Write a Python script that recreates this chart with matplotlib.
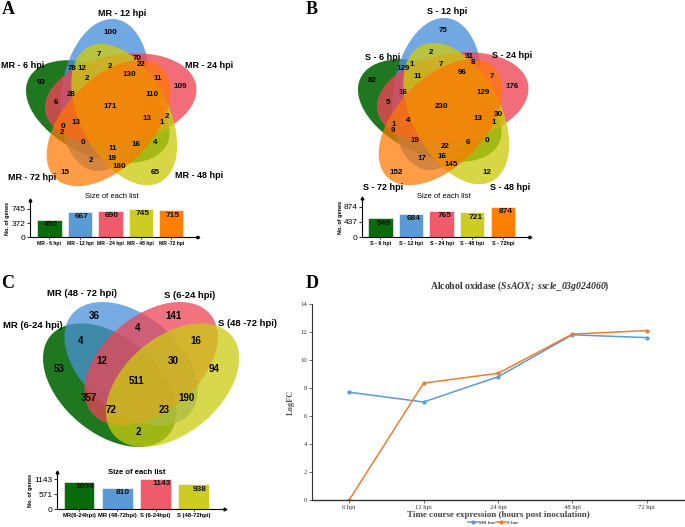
import matplotlib
matplotlib.use("Agg")
import matplotlib.pyplot as plt
from matplotlib.patches import Ellipse

plt.rcParams.update({
    "font.family": ["Liberation Sans", "DejaVu Sans"],
    "mathtext.fontset": "custom",
    "mathtext.rm": "Liberation Serif",
    "mathtext.it": "Liberation Serif:italic",
    "mathtext.bf": "Liberation Serif:bold",
    "mathtext.bfit": "Liberation Serif:italic:bold",
})

# ---- data -------------------------------------------------------------
sets_a = ["MR - 6 hpi", "MR - 12 hpi", "MR - 24 hpi", "MR - 48 hpi", "MR - 72 hpi"]
sets_b = ["S - 6 hpi", "S - 12 hpi", "S - 24 hpi", "S - 48 hpi", "S - 72 hpi"]
sets_c = ["MR (6-24 hpi)", "MR (48 - 72 hpi)", "S (6-24 hpi)", "S (48 -72 hpi)"]

# region counts, in reading order of the picture
counts_a = [100, 7, 70, 22, 78, 12, 2, 130, 11, 109, 93, 2, 28, 110, 6, 171, 13, 13,
            2, 1, 0, 2, 0, 16, 4, 11, 2, 19, 180, 15, 65]
counts_b = [75, 2, 31, 8, 129, 1, 7, 96, 7, 176, 82, 11, 16, 129, 5, 230, 13, 30,
            1, 4, 1, 9, 19, 22, 6, 0, 17, 16, 145, 152, 12]
counts_c = [36, 141, 4, 4, 16, 53, 12, 30, 94, 511, 357, 190, 72, 23, 2]

bar_labels_a = ["MR - 6 hpi", "MR - 12 hpi", "MR - 24 hpi", "MR - 48 hpi", "MR -72 hpi"]
bar_vals_a = [450, 667, 690, 745, 715]
bar_labels_b = ["S - 6 hpi", "S - 12 hpi", "S - 24 hpi", "S - 48 hpi", "S - 72hpi"]
bar_vals_b = [549, 684, 765, 721, 874]
bar_labels_c = ["MR(6-24hpi)", "MR (48-72hpi)", "S (6-24hpi)", "S (48-72hpi)"]
bar_vals_c = [1034, 810, 1143, 938]

timepoints = ["6 hpi", "12 hpi", "24 hpi", "48 hpi", "72 hpi"]
mr_line = [7.7, 7.0, 8.8, 11.8, 11.6]
s_line = [0.0, 8.35, 9.05, 11.85, 12.1]

# ---- layout / style ---------------------------------------------------
W, H = 685, 527
GREEN, BLUE, RED, YELLOW, ORANGE = "#006400", "#4a90d9", "#ee4455", "#cccc11", "#ff7700"
COLS5 = [GREEN, BLUE, RED, YELLOW, ORANGE]
ALPHA5 = [0.88, 0.78, 0.78, 0.78, 0.72]
BAR5 = ["#0a6b0a", "#5b9bd5", "#ef5b6b", "#cccc22", "#ff7f00"]

# five-ellipse geometry (unit square), four-ellipse geometry
ELL5 = [(0.428, 0.449, 155.0), (0.469, 0.543, 82.0), (0.558, 0.523, 10.0),
        (0.578, 0.432, 118.0), (0.489, 0.383, 46.0)]
ELL4 = [(0.350, 0.400, 140.0), (0.450, 0.500, 140.0), (0.544, 0.500, 40.0),
        (0.644, 0.400, 40.0)]

pos_a = [(110, 32), (99, 54), (137, 59), (141, 65), (72, 69), (82, 68), (110, 66),
         (129, 75), (158, 79), (180, 87), (41, 82), (87, 79), (71, 95), (152, 95),
         (56, 103), (110, 107), (76, 122), (147, 119), (167, 116), (162, 123),
         (63, 126), (62, 133), (83, 143), (136, 145), (155, 142), (113, 148),
         (91, 161), (112, 159), (119, 166), (65, 173), (155, 173)]
pos_b = [(443, 31), (431, 52), (469, 57), (473, 63), (403, 68), (412, 65), (441, 64),
         (462, 73), (492, 77), (512, 86), (372, 81), (418, 77), (403, 93), (483, 93),
         (388, 102), (442, 106), (478, 118), (498, 114), (494, 122), (408, 120),
         (394, 124), (393, 131), (415, 141), (445, 147), (468, 143), (487, 141),
         (422, 159), (442, 157), (451, 164), (396, 172), (487, 172)]
pos_c = [(94, 316), (174, 316), (138, 328), (81, 341), (196, 341), (59, 369),
         (102, 361), (173, 361), (214, 369), (137, 381), (89, 398), (187, 398),
         (111, 410), (164, 410), (138, 432)]
setpos_a = [(23, 65), (122, 13), (209, 65), (199, 176), (32, 177)]
setpos_b = [(383, 57), (447, 11), (512, 55), (510, 188), (383, 188)]
setpos_c = [(33, 325), (82, 293), (190, 295), (248, 324)]

fig = plt.figure(figsize=(W / 100, H / 100), dpi=100)
ov = fig.add_axes([0, 0, 1, 1])
ov.set_xlim(0, W)
ov.set_ylim(H, 0)
ov.axis("off")


def venn(ells, w, h, x0, ux, y0, uy, s, cols, alphas):
    for (x, y, ang), c, a in zip(ells, cols, alphas):
        px = x0 + (x - ux) * s
        py = y0 + (uy - y) * s
        ov.add_patch(Ellipse((px, py), w * s, h * s, angle=-ang, fc=c, ec="none",
                             alpha=a, zorder=1))


venn(ELL5, 0.87, 0.50, 26, 0.020, 19, 0.975, 176, COLS5, ALPHA5)
venn(ELL5, 0.87, 0.50, 358, 0.020, 18, 0.975, 176, COLS5, ALPHA5)
venn(ELL4, 0.72, 0.45, 43, 0.0386, 302, 0.7885, 214, COLS5[:4], [0.88, 0.75, 0.75, 0.75])

for counts, pos in ((counts_a, pos_a), (counts_b, pos_b)):
    for v, (x, y) in zip(counts, pos):
        ov.text(x, y, str(v), ha="center", va="center", fontsize=5.8,
                fontweight="bold", zorder=3)
for v, (x, y) in zip(counts_c, pos_c):
    ov.text(x, y, str(v), ha="center", va="center", fontsize=7,
            fontweight="bold", zorder=3)

for names, pos, fs in ((sets_a, setpos_a, 6.5), (sets_b, setpos_b, 6.5), (sets_c, setpos_c, 6.8)):
    for n, (x, y) in zip(names, pos):
        ov.text(x, y, n, ha="center", va="center", fontsize=fs, fontweight="bold", zorder=3)

for lab, (x, y) in zip("ABCD", [(8, 10), (312, 9), (8, 283), (312, 283)]):
    ov.text(x, y, lab, ha="center", va="center", fontsize=13, fontweight="bold",
            family="Liberation Serif", zorder=3)

ov.text(112, 197, "Size of each list", ha="center", va="center", fontsize=5.5)
ov.text(444, 196, "Size of each list", ha="center", va="center", fontsize=5.5)
ov.text(137, 473, "Size of each list", ha="center", va="center", fontsize=5.5,
        fontweight="bold")


def px_axes(l, r, t, b):
    return fig.add_axes([l / W, 1 - b / H, (r - l) / W, (b - t) / H])


def bars(l, r, t, b, labels, vals, cols, x0, x1, ymax, ticks, dx, fs):
    ax = px_axes(l, r, t, b)
    xs = list(range(len(vals)))
    ax.bar(xs, vals, width=0.8, color=cols, edgecolor="white", lw=0.4)
    ax.set_xlim(x0, x1)
    ax.set_ylim(0, ymax)
    for sp in ("top", "right"):
        ax.spines[sp].set_visible(False)
    for sp in ("left", "bottom"):
        ax.spines[sp].set_linewidth(0.8)
    ax.plot(1, 0, ">k", ms=2, transform=ax.transAxes, clip_on=False)
    ax.plot(0, 1, "^k", ms=2, transform=ax.transAxes, clip_on=False)
    ax.set_yticks(ticks)
    ax.set_xticks(xs)
    ax.set_xticklabels(labels, fontsize=fs, fontweight="bold")
    ax.tick_params(axis="y", labelsize=6, length=2, width=0.6, pad=1)
    ax.tick_params(axis="x", length=1.5, width=0.6, pad=1.5)
    ax.patch.set_alpha(0)
    for x, v in zip(xs, vals):
        ax.annotate(str(v), (x + dx, v), xytext=(0, -1), textcoords="offset points",
                    ha="center", va="top", fontsize=6, fontweight="bold", color="#111111")
    ax.set_ylabel("No. of genes", fontsize=4, fontweight="bold", labelpad=1)
    return ax


bars(30, 198, 200, 237, bar_labels_a, bar_vals_a, BAR5, -0.64, 4.88, 984,
     [0, 372, 745], 0.05, 3.6)
bars(362, 530, 198, 237, bar_labels_b, bar_vals_b, BAR5, -0.6, 4.89, 1136,
     [0, 437, 874], 0.1, 3.9)
bars(57, 225, 472, 509, bar_labels_c, bar_vals_c, BAR5[:4], -0.58, 3.82, 1410,
     [0, 571, 1143], 0.15, 4.2)

# ---- panel D ----------------------------------------------------------
axd = px_axes(312, 684, 304, 500)
xs = list(range(len(timepoints)))
axd.plot(xs, mr_line, color="#5b9bd5", lw=1.1, marker="o", ms=2, label="MR line")
axd.plot(xs, s_line, color="#ed7d31", lw=1.1, marker="o", ms=2, label="S line")
axd.set_xlim(-0.5, 4.5)
axd.set_ylim(0, 14)
axd.set_yticks(range(0, 15, 2))
axd.set_xticks(xs)
axd.set_xticklabels(timepoints)
for sp in ("top", "right"):
    axd.spines[sp].set_visible(False)
axd.spines["left"].set_color("#333333")
axd.spines["bottom"].set_color("#333333")
axd.spines["bottom"].set_linewidth(1.0)
for t in axd.get_xticklabels() + axd.get_yticklabels():
    t.set_family("Liberation Serif")
axd.tick_params(labelsize=4.8, length=2, width=0.5, pad=1.5, colors="#333333")
axd.set_xlabel("Time course expression (hours post inoculation)", family="Liberation Serif",
               fontsize=6.5, fontweight="bold", color="#444444", labelpad=1)
axd.set_ylabel("LogFC", family="Liberation Serif", fontsize=6, fontweight="bold",
               color="#555555", labelpad=4)
axd.legend(loc="upper center", bbox_to_anchor=(0.487, -0.095), ncol=2, frameon=False,
           prop={"family": "Liberation Serif", "size": 3.5}, handlelength=2,
           columnspacing=0.3, handletextpad=0.2, borderaxespad=0)
ov.text(520, 286, r"Alcohol oxidase ($\mathbfit{SsAOX;\ sscle\_03g024060}$)",
        ha="center", va="center", fontsize=7, fontweight="bold", family="Liberation Serif",
        color="#333333")

fig.savefig("out.png", dpi=100)
